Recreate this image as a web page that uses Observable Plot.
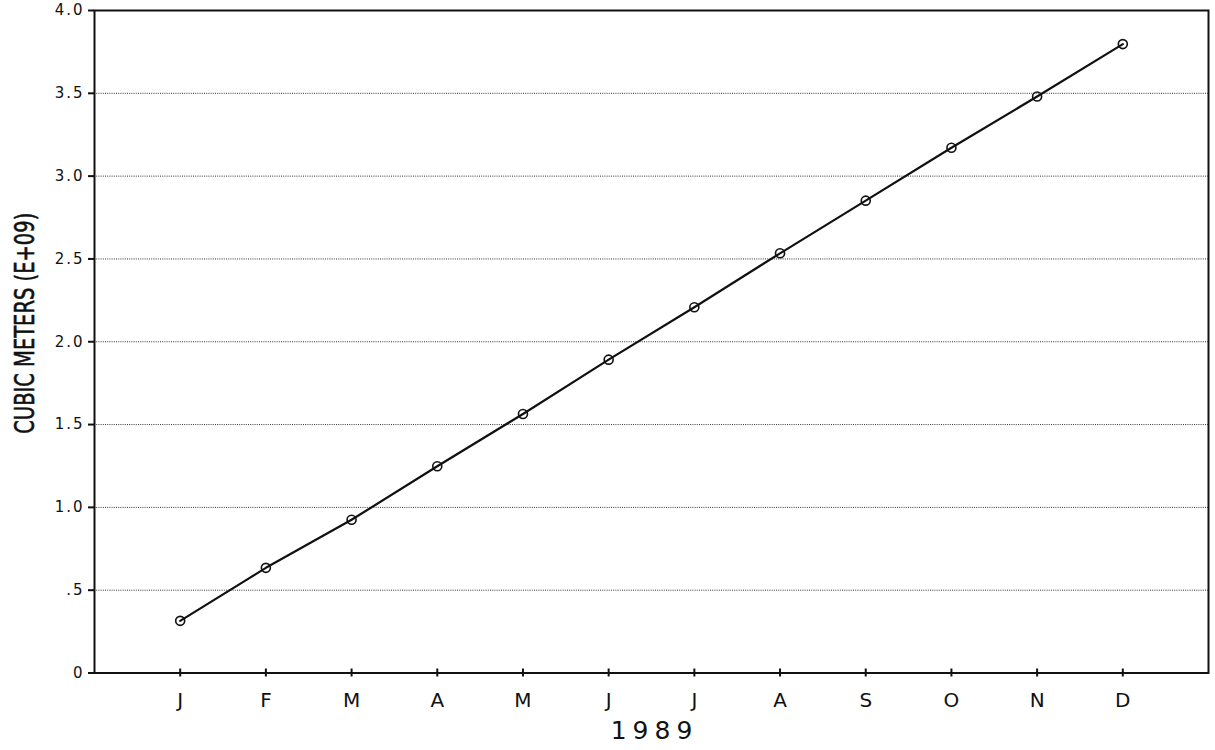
<!DOCTYPE html>
<html>
<head>
<meta charset="utf-8">
<script src="https://cdn.jsdelivr.net/npm/d3@7"></script>
<script src="https://cdn.jsdelivr.net/npm/@observablehq/plot@0.6"></script>
<style>
  html, body { margin: 0; padding: 0; background: #fff; }
</style>
</head>
<body>
<div id="chart"></div>
<script>
const months = ["J", "F", "M", "A", "M", "J", "J", "A", "S", "O", "N", "D"];
const monthIndex = [1, 2, 3, 4, 5, 6, 7, 8, 9, 10, 11, 12];
const volume = [0.315, 0.635, 0.925, 1.248, 1.564, 1.892, 2.208, 2.534, 2.852, 3.171, 3.481, 3.797];
const yTicks = [0, 0.5, 1.0, 1.5, 2.0, 2.5, 3.0, 3.5, 4.0];
const yTickLabels = ["0", ".5", "1.0", "1.5", "2.0", "2.5", "3.0", "3.5", "4.0"];
const yTitle = "CUBIC METERS (E+09)";
const xTitle = "1989";

const data = monthIndex.map((m, i) => ({m, v: volume[i]}));

const W = 1215, H = 750;
const mTop = 10, mBottom = 77.5, mLeft = 94, mRight = 7;
const innerH = H - mTop - mBottom;
const ink = "#111";

const chart = Plot.plot({
  width: W,
  height: H,
  marginTop: mTop,
  marginBottom: mBottom,
  marginLeft: mLeft,
  marginRight: mRight,
  x: {domain: [0, 13], label: null},
  y: {domain: [0, 4], label: null},
  style: {fontFamily: "'DejaVu Sans', sans-serif", color: ink, background: "#fff"},
  marks: [
    Plot.gridY(yTicks.slice(1, -1), {stroke: "#333", strokeOpacity: 1, strokeWidth: 1, strokeDasharray: "1,1.2"}),
    Plot.frame({stroke: ink, strokeWidth: 2}),
    Plot.axisY({ticks: yTicks, tickSize: 6, tickPadding: 4, strokeWidth: 2, fontSize: 15,
      tickFormat: d => yTickLabels[yTicks.indexOf(d)], label: null}),
    Plot.axisX({ticks: monthIndex, tickSize: 0, tickPadding: 20, fontSize: 20,
      tickFormat: d => months[d - 1], label: null}),
    Plot.ruleX(monthIndex, {x: d => d, insetTop: innerH - 4, insetBottom: -4, stroke: ink, strokeWidth: 2}),
    Plot.line(data, {x: "m", y: "v", stroke: ink, strokeWidth: 2.2}),
    Plot.dot(data, {x: "m", y: "v", r: 4.5, stroke: ink, fill: "none", strokeWidth: 1.6}),
    Plot.text([xTitle], {frameAnchor: "bottom", dy: 57.5, dx: 3, fontSize: 25, lineAnchor: "middle", fill: ink}),
    Plot.text([yTitle], {frameAnchor: "left", rotate: -90, dx: -69, dy: 92, fontSize: 26,
      stroke: ink, strokeWidth: 0.6, textAnchor: "start", lineAnchor: "middle", fill: ink})
  ]
});

document.getElementById("chart").appendChild(chart);

const svg = d3.select(chart);
const ySet = new Set(yTickLabels);
svg.selectAll("text").filter(function() { return ySet.has(this.textContent); })
  .style("letter-spacing", "2px");
svg.selectAll("text").filter(function() { return this.textContent === xTitle; }).style("letter-spacing", "6px");
svg.selectAll("text").filter(function() { return this.textContent === yTitle; })
  .attr("textLength", 221).attr("lengthAdjust", "spacingAndGlyphs");
</script>
</body>
</html>
